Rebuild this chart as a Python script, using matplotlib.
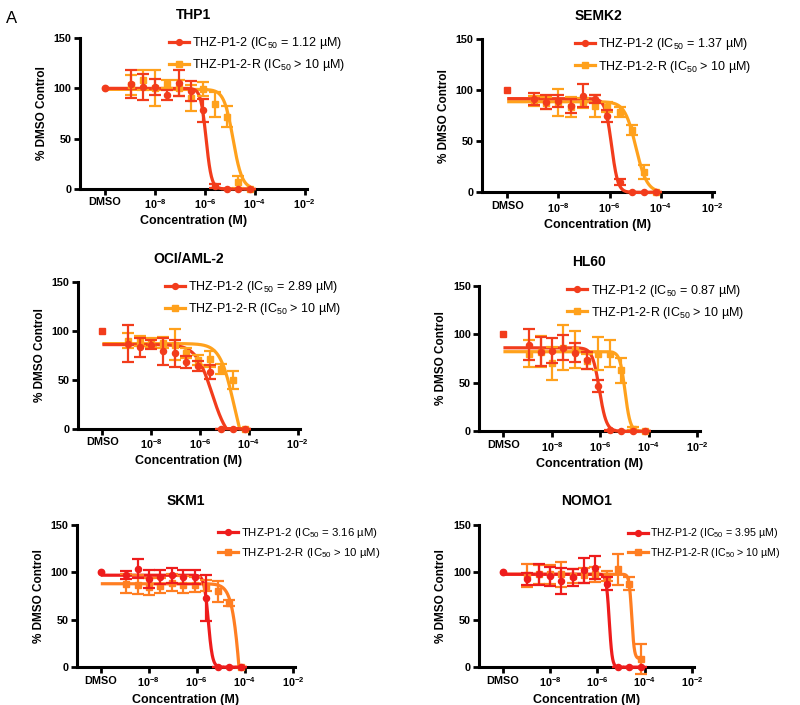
import numpy as np
import matplotlib
matplotlib.use('Agg')
import matplotlib.pyplot as plt
from matplotlib.lines import Line2D

plt.rcParams['font.family'] = ['Liberation Sans', 'DejaVu Sans']
plt.rcParams['mathtext.default'] = 'regular'
plt.rcParams['mathtext.fontset'] = 'custom'
plt.rcParams['mathtext.rm'] = 'Liberation Sans'
plt.rcParams['mathtext.bf'] = 'Liberation Sans:bold'

# colours (top four panels / bottom two panels)
red_a = '#F23C1C'
orange_a = '#FFA11C'
red_b = '#EE1C1C'
orange_b = '#FF7E22'

# dose series (M), DMSO plotted at 1e-10
dmso_pos = 1e-10
conc = [1.1e-9, 3.4e-9, 1.0e-8, 3.0e-8, 9.1e-8, 2.7e-7, 8.2e-7, 2.5e-6, 7.4e-6, 2.2e-5, 6.7e-5]

# THP1
thp1_red = [104, 101, 101, 93, 105, 97, 78, 3, 0, 0, 0]
thp1_red_sd = [14, 13, 8, 5, 13, 10, 11, 2, 0, 0, 0]
thp1_or = [103, 108, 100, 104, 100, 90, 99, 84, 72, 7, 0]
thp1_or_sd = [10, 10, 18, 4, 8, 13, 7, 12, 10, 6, 0]
thp1_fit_red = (100, 0, -5.95, 4.0)
thp1_fit_or = (99, 0, -4.87, 2.4)

# SEMK2
semk2_red = [92, 89, 90, 85, 95, 92, 75, 10, 0, 0, 0]
semk2_red_sd = [6, 7, 6, 7, 11, 4, 6, 3, 0, 0, 0]
semk2_or = [90, 88, 88, 84, 88, 85, 84, 79, 61, 20, 0]
semk2_or_sd = [5, 6, 13, 10, 5, 11, 5, 5, 5, 7, 0]
semk2_fit_red = (92, 0, -5.92, 3.5)
semk2_fit_or = (89, 0, -4.97, 2.0)

# OCI/AML-2
oci_red = [87, 83, 86, 79, 77, 68, 64, 58, 0, 0, 0]
oci_red_sd = [19, 10, 5, 14, 14, 6, 5, 7, 0, 0, 0]
oci_or = [90, 90, 88, 88, 86, 77, 70, 71, 61, 50, 0]
oci_or_sd = [8, 5, 5, 6, 16, 5, 5, 8, 5, 9, 0]
oci_fit_red = (86, -15, -5.5, 1.3)
oci_fit_or = (87, -40, -4.6, 1.5)

# HL60
hl60_red = [89, 82, 83, 86, 81, 73, 47, 1, 0, 0, 0]
hl60_red_sd = [16, 15, 13, 13, 10, 9, 6, 1, 0, 0, 0]
hl60_or = [80, 82, 70, 86, 84, 72, 80, 80, 63, 3, 0]
hl60_or_sd = [14, 16, 17, 23, 19, 8, 17, 14, 13, 2, 0]
hl60_fit_red = (86, 0, -6.04, 3.0)
hl60_fit_or = (82, 0, -4.98, 4.0)

# SKM1
skm1_red = [97, 104, 93, 95, 97, 95, 95, 73, 0, 0, 0]
skm1_red_sd = [4, 10, 9, 7, 8, 7, 7, 24, 0, 0, 0]
skm1_or = [88, 87, 85, 86, 89, 87, 87, 86, 80, 68, 0]
skm1_or_sd = [10, 10, 9, 8, 9, 9, 8, 6, 11, 3, 0]
skm1_fit_red = (97, 0, -5.52, 5.0)
skm1_fit_or = (88, -200, -4.08, 2.2)

# NOMO1
nomo1_red = [93, 98, 96, 91, 95, 102, 105, 88, 0, 0, 0]
nomo1_red_sd = [6, 11, 10, 14, 9, 13, 12, 7, 0, 0, 0]
nomo1_or = [97, 98, 98, 98, 96, 97, 98, 96, 103, 88, 9]
nomo1_or_sd = [12, 10, 10, 13, 7, 8, 8, 5, 16, 7, 16]
nomo1_fit_red = (98, 0, -5.5, 7.0)
nomo1_fit_or = (98, 9, -4.55, 8.0)

titles = ['THP1', 'SEMK2', 'OCI/AML-2', 'HL60', 'SKM1', 'NOMO1']
ic50_labels = ['1.12', '1.37', '2.89', '0.87', '3.16', '3.95']
dmso_markers = ['o', 's', 's', 's', 'o', 'o']

panels = [
    (thp1_red, thp1_red_sd, thp1_or, thp1_or_sd, thp1_fit_red, thp1_fit_or),
    (semk2_red, semk2_red_sd, semk2_or, semk2_or_sd, semk2_fit_red, semk2_fit_or),
    (oci_red, oci_red_sd, oci_or, oci_or_sd, oci_fit_red, oci_fit_or),
    (hl60_red, hl60_red_sd, hl60_or, hl60_or_sd, hl60_fit_red, hl60_fit_or),
    (skm1_red, skm1_red_sd, skm1_or, skm1_or_sd, skm1_fit_red, skm1_fit_or),
    (nomo1_red, nomo1_red_sd, nomo1_or, nomo1_or_sd, nomo1_fit_red, nomo1_fit_or),
]

# axes rectangles (figure fraction) and legend anchors (axes fraction)
rects = [
    [0.100, 0.732, 0.284, 0.214],
    [0.602, 0.727, 0.291, 0.217],
    [0.0975, 0.392, 0.2775, 0.208],
    [0.599, 0.388, 0.2756, 0.207],
    [0.096, 0.0535, 0.273, 0.202],
    [0.599, 0.0535, 0.269, 0.202],
]
leg_anchor = [(0.39, 1.02), (0.40, 1.02), (0.39, 1.02), (0.40, 1.02), (0.645, 0.99), (0.69, 0.99)]
leg_size = [9, 9, 9, 9, 8.2, 7.7]


def fit_curve(p, x):
    top, bottom, logmid, hill = p
    return bottom + (top - bottom) / (1 + 10 ** ((np.log10(x) - logmid) * hill))


fig = plt.figure(figsize=(8, 7.05), dpi=100)
fig.text(0.008, 0.985, 'A', fontsize=12, va='top', ha='left')

xfit = np.logspace(np.log10(dmso_pos), np.log10(conc[-1]), 400)

for i, (rv, rsd, ov, osd, rfit, ofit) in enumerate(panels):
    ax = fig.add_axes(rects[i])
    if i < 4:
        c_red, c_or = red_a, orange_a
    else:
        c_red, c_or = red_b, orange_b

    # fitted curves
    ax.plot(xfit, np.clip(fit_curve(ofit, xfit), 0, None), color=c_or, lw=2.3,
            zorder=3, clip_on=False, solid_capstyle='butt')
    ax.plot(xfit, np.clip(fit_curve(rfit, xfit), 0, None), color=c_red, lw=2.3,
            zorder=4, clip_on=False, solid_capstyle='butt')

    # data with error bars
    eb = ax.errorbar(conc, ov, yerr=osd, fmt='s', color=c_or, ms=4.4, elinewidth=1.6,
                     capsize=4, capthick=1.6, zorder=5)
    for a in eb.get_children():
        a.set_clip_on(False)
    eb = ax.errorbar(conc, rv, yerr=rsd, fmt='o', color=c_red, ms=4.4, elinewidth=1.6,
                     capsize=4, capthick=1.6, zorder=6)
    for a in eb.get_children():
        a.set_clip_on(False)
    ax.plot([dmso_pos], [100], marker=dmso_markers[i], color=c_red, ms=4.6, ls='none',
            zorder=7, clip_on=False)

    ax.set_xscale('log')
    ax.set_xlim(1e-11, 10 ** -1.9)
    ax.set_ylim(0, 150)
    ax.set_xticks([1e-10, 1e-8, 1e-6, 1e-4, 1e-2])
    ax.set_xticklabels(['DMSO', r'$\mathbf{10^{-8}}$', r'$\mathbf{10^{-6}}$',
                        r'$\mathbf{10^{-4}}$', r'$\mathbf{10^{-2}}$'])
    ax.xaxis.set_minor_locator(matplotlib.ticker.NullLocator())
    ax.set_yticks([0, 50, 100, 150])
    for lab in ax.get_xticklabels() + ax.get_yticklabels():
        lab.set_fontweight('bold')
        lab.set_fontsize(7.8)
    ax.spines['top'].set_visible(False)
    ax.spines['right'].set_visible(False)
    ax.spines['left'].set_linewidth(2.2)
    ax.spines['bottom'].set_linewidth(2.2)
    ax.tick_params(direction='out', length=4, width=2, pad=2)

    ax.set_xlabel('Concentration (M)', fontsize=9, fontweight='bold', labelpad=3)
    ax.set_ylabel('% DMSO Control', fontsize=8.5, fontweight='bold', labelpad=4)
    ax.set_title(titles[i], fontsize=10, fontweight='bold', pad=14)

    handles = [
        Line2D([], [], color=c_red, lw=2.3, marker='o', ms=4.2),
        Line2D([], [], color=c_or, lw=2.3, marker='s', ms=4.2),
    ]
    labels = ['THZ-P1-2 (IC$_{50}$ = ' + ic50_labels[i] + ' µM)',
              'THZ-P1-2-R (IC$_{50}$ > 10 µM)']
    hl = 1.6 * 9 / leg_size[i]
    ax.legend(handles, labels, loc='upper left', bbox_to_anchor=leg_anchor[i],
              frameon=False, fontsize=leg_size[i], handlelength=hl, handletextpad=0.25,
              labelspacing=0.5, borderpad=0, borderaxespad=0)

plt.savefig('out.png', dpi=100)
